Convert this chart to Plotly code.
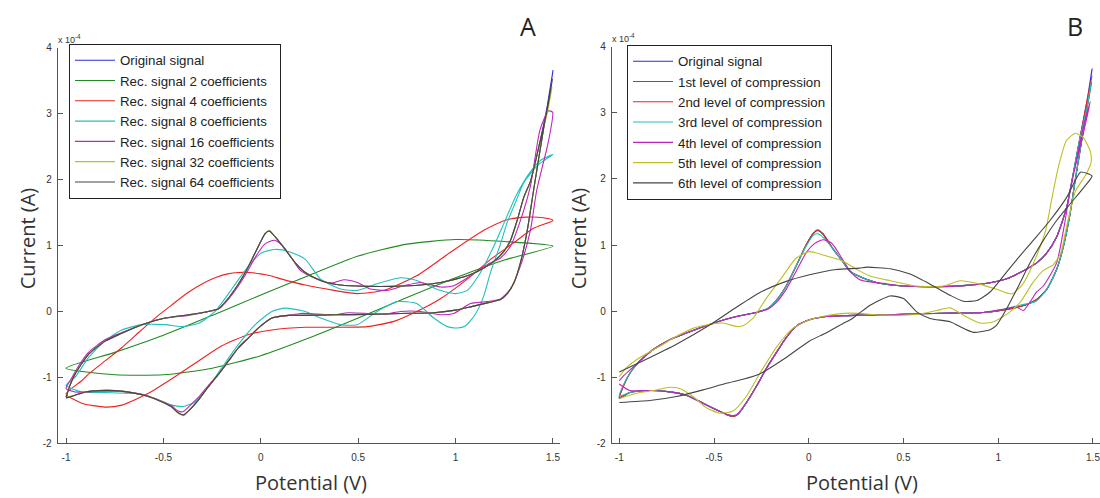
import plotly.graph_objects as go

# Currents are in units of 1e-4 A (axis shows "x 10^-4")
# ---------------- Panel A ----------------
A_orig_V = [-1, -0.98, -0.954, -0.885, -0.80, -0.714, -0.611, -0.491, -0.372, -0.269, -0.217, -0.183, -0.132, -0.08, -0.029, 0.022, 0.043, 0.074, 0.125, 0.176, 0.228, 0.307, 0.41, 0.546, 0.683, 0.82, 0.923, 1.0, 1.077, 1.145, 1.196, 1.248, 1.282, 1.316, 1.35, 1.385, 1.433, 1.47, 1.5,
            1.45, 1.40, 1.368, 1.333, 1.30, 1.265, 1.23, 1.162, 1.077, 1.0, 0.888, 0.717, 0.546, 0.375, 0.228, 0.142, 0.057, -0.012, -0.063, -0.115, -0.166, -0.217, -0.269, -0.32, -0.372, -0.397, -0.423, -0.457, -0.509, -0.577, -0.663, -0.748, -0.834, -0.90, -0.954, -1.0]
A_orig_I = [-1.30, -1.12, -0.95, -0.65, -0.45, -0.33, -0.20, -0.10, -0.05, 0.0, 0.04, 0.14, 0.34, 0.59, 0.89, 1.18, 1.22, 1.13, 0.94, 0.74, 0.59, 0.47, 0.40, 0.38, 0.38, 0.40, 0.44, 0.49, 0.56, 0.66, 0.76, 0.91, 1.08, 1.38, 1.73, 1.98, 2.57, 3.1, 3.65,
            2.74, 1.83, 1.23, 0.74, 0.44, 0.27, 0.18, 0.13, 0.07, 0.02, -0.02, -0.03, -0.045, -0.05, -0.06, -0.06, -0.10, -0.25, -0.40, -0.55, -0.75, -0.95, -1.14, -1.34, -1.51, -1.57, -1.54, -1.45, -1.37, -1.29, -1.23, -1.20, -1.20, -1.22, -1.27, -1.31]

A_c2_V = [-1, -0.75, -0.5, -0.25, 0.0, 0.25, 0.5, 0.75, 1.0, 1.25, 1.5,
          1.25, 1.0, 0.75, 0.5, 0.25, 0.0, -0.25, -0.5, -0.75, -1.0]
A_c2_I = [-0.86, -0.62, -0.36, -0.06, 0.25, 0.55, 0.84, 1.02, 1.09, 1.06, 0.99,
          0.78, 0.51, 0.21, -0.10, -0.40, -0.67, -0.86, -0.96, -0.96, -0.86]

A_c4_V = [-1, -0.92, -0.885, -0.80, -0.714, -0.62, -0.543, -0.457, -0.372, -0.30, -0.235, -0.17, -0.115, -0.06, 0.0, 0.05, 0.108, 0.228, 0.375, 0.495, 0.632, 0.80, 0.97, 1.145, 1.265, 1.367, 1.45, 1.5,
          1.40, 1.316, 1.18, 1.06, 0.92, 0.80, 0.683, 0.546, 0.375, 0.228, 0.057, -0.063, -0.2, -0.32, -0.457, -0.577, -0.714, -0.8, -0.92, -1.0]
A_c4_I = [-1.25, -1.05, -0.95, -0.75, -0.55, -0.30, -0.10, 0.10, 0.29, 0.42, 0.51, 0.57, 0.59, 0.59, 0.57, 0.54, 0.49, 0.40, 0.32, 0.27, 0.32, 0.54, 0.89, 1.23, 1.39, 1.43, 1.42, 1.38,
          1.26, 1.08, 0.79, 0.49, 0.19, 0.0, -0.15, -0.23, -0.24, -0.24, -0.28, -0.35, -0.52, -0.75, -1.02, -1.24, -1.42, -1.45, -1.39, -1.25]

A_c8_V = [-1, -0.954, -0.885, -0.80, -0.714, -0.611, -0.491, -0.406, -0.32, -0.235, -0.149, -0.063, 0.005, 0.074, 0.142, 0.228, 0.307, 0.41, 0.495, 0.597, 0.717, 0.80, 0.92, 1.0, 1.06, 1.128, 1.196, 1.25, 1.31, 1.38, 1.44, 1.5,
          1.46, 1.416, 1.35, 1.314, 1.265, 1.228, 1.18, 1.145, 1.10, 1.05, 1.008, 0.957, 0.888, 0.80, 0.70, 0.597, 0.495, 0.41, 0.307, 0.228, 0.125, 0.057, -0.029, -0.115, -0.2, -0.269, -0.337, -0.397, -0.457, -0.543, -0.628, -0.80, -0.92, -1.0]
A_c8_I = [-1.12, -1.0, -0.70, -0.45, -0.28, -0.20, -0.20, -0.23, -0.18, 0.0, 0.34, 0.69, 0.89, 0.94, 0.91, 0.79, 0.49, 0.34, 0.32, 0.42, 0.51, 0.47, 0.32, 0.27, 0.32, 0.59, 0.99, 1.35, 1.75, 2.1, 2.3, 2.38,
          2.3, 2.2, 1.95, 1.7, 1.35, 1.0, 0.6, 0.24, -0.05, -0.22, -0.25, -0.23, -0.10, 0.12, 0.15, 0.0, -0.20, -0.20, -0.10, 0.0, 0.05, 0.0, -0.20, -0.50, -0.85, -1.14, -1.37, -1.44, -1.42, -1.32, -1.25, -1.23, -1.22, -1.12]

A_c16_V = [-1, -0.97, -0.93, -0.885, -0.80, -0.714, -0.611, -0.491, -0.372, -0.269, -0.217, -0.183, -0.132, -0.08, -0.029, 0.02, 0.07, 0.11, 0.16, 0.204, 0.29, 0.358, 0.426, 0.495, 0.563, 0.649, 0.734, 0.82, 0.923, 0.991, 1.077, 1.162, 1.23, 1.282, 1.333, 1.384, 1.433, 1.476, 1.498,
           1.476, 1.416, 1.384, 1.333, 1.282, 1.23, 1.162, 1.077, 0.991, 0.923, 0.82, 0.717, 0.632, 0.546, 0.45, 0.375, 0.29, 0.204, 0.142, 0.057, -0.012, -0.063, -0.115, -0.166, -0.217, -0.269, -0.32, -0.372, -0.40, -0.43, -0.457, -0.509, -0.577, -0.663, -0.748, -0.834, -0.90, -0.954, -1.0]
A_c16_I = [-1.17, -1.0, -0.80, -0.62, -0.43, -0.32, -0.20, -0.10, -0.06, 0.0, 0.04, 0.13, 0.32, 0.55, 0.82, 1.02, 1.08, 1.0, 0.80, 0.62, 0.49, 0.43, 0.48, 0.44, 0.34, 0.32, 0.39, 0.44, 0.37, 0.39, 0.54, 0.71, 0.81, 0.99, 1.38, 1.9, 2.75, 3.04, 3.02,
           2.57, 1.83, 1.23, 0.69, 0.34, 0.19, 0.15, 0.12, -0.03, -0.05, 0.0, 0.0, -0.045, -0.03, -0.02, -0.05, -0.04, -0.03, -0.06, -0.10, -0.25, -0.40, -0.55, -0.75, -0.95, -1.12, -1.30, -1.45, -1.52, -1.50, -1.43, -1.36, -1.28, -1.23, -1.21, -1.21, -1.22, -1.22, -1.17]

A_c32_V = [-1, -0.98, -0.954, -0.885, -0.80, -0.714, -0.611, -0.491, -0.372, -0.269, -0.217, -0.183, -0.132, -0.08, -0.029, 0.022, 0.043, 0.074, 0.125, 0.176, 0.228, 0.307, 0.41, 0.546, 0.683, 0.82, 0.923, 1.0, 1.077, 1.145, 1.196, 1.248, 1.282, 1.316, 1.35, 1.385, 1.433, 1.47, 1.495,
           1.45, 1.40, 1.368, 1.333, 1.30, 1.265, 1.23, 1.162, 1.077, 1.0, 0.888, 0.717, 0.546, 0.375, 0.228, 0.142, 0.057, -0.012, -0.063, -0.115, -0.166, -0.217, -0.269, -0.32, -0.372, -0.397, -0.423, -0.457, -0.509, -0.577, -0.663, -0.748, -0.834, -0.90, -0.954, -1.0]
A_c32_I = [-1.29, -1.11, -0.95, -0.65, -0.45, -0.33, -0.20, -0.10, -0.05, 0.0, 0.04, 0.14, 0.34, 0.59, 0.89, 1.18, 1.23, 1.13, 0.94, 0.74, 0.59, 0.47, 0.40, 0.38, 0.38, 0.40, 0.44, 0.49, 0.56, 0.66, 0.76, 0.91, 1.08, 1.38, 1.73, 1.98, 2.57, 3.0, 3.40,
           2.74, 1.83, 1.23, 0.74, 0.44, 0.27, 0.18, 0.13, 0.07, 0.02, -0.02, -0.03, -0.045, -0.05, -0.06, -0.06, -0.10, -0.25, -0.40, -0.55, -0.75, -0.95, -1.14, -1.34, -1.51, -1.58, -1.54, -1.45, -1.37, -1.29, -1.23, -1.20, -1.20, -1.22, -1.27, -1.30]

A_c64_V = [-1, -0.98, -0.954, -0.885, -0.80, -0.714, -0.611, -0.491, -0.372, -0.269, -0.217, -0.183, -0.132, -0.08, -0.029, 0.022, 0.043, 0.074, 0.125, 0.176, 0.228, 0.307, 0.41, 0.546, 0.683, 0.82, 0.923, 1.0, 1.077, 1.145, 1.196, 1.248, 1.282, 1.316, 1.35, 1.385, 1.433, 1.47, 1.497,
           1.45, 1.40, 1.368, 1.333, 1.30, 1.265, 1.23, 1.162, 1.077, 1.0, 0.888, 0.717, 0.546, 0.375, 0.228, 0.142, 0.057, -0.012, -0.063, -0.115, -0.166, -0.217, -0.269, -0.32, -0.372, -0.397, -0.423, -0.457, -0.509, -0.577, -0.663, -0.748, -0.834, -0.90, -0.954, -1.0]
A_c64_I = [-1.30, -1.12, -0.95, -0.65, -0.45, -0.33, -0.20, -0.10, -0.05, 0.0, 0.04, 0.14, 0.34, 0.59, 0.89, 1.18, 1.22, 1.13, 0.94, 0.74, 0.59, 0.47, 0.40, 0.38, 0.38, 0.40, 0.44, 0.49, 0.56, 0.66, 0.76, 0.91, 1.08, 1.38, 1.73, 1.98, 2.57, 3.05, 3.52,
           2.74, 1.83, 1.23, 0.74, 0.44, 0.27, 0.18, 0.13, 0.07, 0.02, -0.02, -0.03, -0.045, -0.05, -0.06, -0.06, -0.10, -0.25, -0.40, -0.55, -0.75, -0.95, -1.14, -1.34, -1.51, -1.57, -1.54, -1.45, -1.37, -1.29, -1.23, -1.20, -1.20, -1.22, -1.27, -1.31]

# ---------------- Panel B ----------------
B_orig_V = [-1, -0.979, -0.94, -0.891, -0.821, -0.733, -0.646, -0.523, -0.382, -0.277, -0.216, -0.172, -0.119, -0.067, -0.014, 0.025, 0.047, 0.074, 0.126, 0.179, 0.219, 0.307, 0.395, 0.5, 0.658, 0.834, 0.957, 1.045, 1.133, 1.203, 1.256, 1.308, 1.361, 1.388, 1.43, 1.47, 1.495,
            1.45, 1.405, 1.379, 1.344, 1.308, 1.256, 1.2, 1.115, 1.027, 0.922, 0.746, 0.57, 0.395, 0.267, 0.179, 0.091, 0.004, -0.067, -0.119, -0.172, -0.225, -0.277, -0.33, -0.374, -0.40, -0.435, -0.488, -0.558, -0.646, -0.733, -0.839, -0.944, -1.0]
B_orig_I = [-1.32, -1.14, -0.92, -0.75, -0.58, -0.43, -0.33, -0.20, -0.08, -0.02, 0.04, 0.16, 0.38, 0.68, 1.0, 1.18, 1.22, 1.17, 0.95, 0.75, 0.60, 0.48, 0.41, 0.38, 0.37, 0.39, 0.43, 0.49, 0.61, 0.73, 0.88, 1.12, 1.57, 1.96, 2.6, 3.2, 3.66,
            2.75, 1.96, 1.47, 0.98, 0.63, 0.33, 0.17, 0.07, 0.02, -0.02, -0.03, -0.04, -0.06, -0.06, -0.07, -0.08, -0.13, -0.23, -0.40, -0.63, -0.87, -1.14, -1.39, -1.56, -1.59, -1.56, -1.49, -1.39, -1.27, -1.22, -1.20, -1.23, -1.32]

B_l1_V = [-1, -0.979, -0.94, -0.891, -0.821, -0.733, -0.646, -0.523, -0.382, -0.277, -0.216, -0.172, -0.119, -0.067, -0.014, 0.025, 0.047, 0.074, 0.126, 0.179, 0.219, 0.307, 0.395, 0.5, 0.658, 0.834, 0.957, 1.045, 1.133, 1.203, 1.256, 1.308, 1.361, 1.388, 1.43, 1.47, 1.492,
          1.45, 1.405, 1.379, 1.344, 1.308, 1.256, 1.2, 1.115, 1.027, 0.922, 0.746, 0.57, 0.395, 0.267, 0.179, 0.091, 0.004, -0.067, -0.119, -0.172, -0.225, -0.277, -0.33, -0.374, -0.40, -0.435, -0.488, -0.558, -0.646, -0.733, -0.839, -0.944, -1.0]
B_l1_I = [-1.30, -1.13, -0.92, -0.75, -0.58, -0.43, -0.33, -0.20, -0.08, -0.02, 0.04, 0.16, 0.38, 0.68, 1.0, 1.18, 1.22, 1.17, 0.95, 0.75, 0.60, 0.48, 0.41, 0.38, 0.37, 0.39, 0.43, 0.49, 0.61, 0.73, 0.88, 1.12, 1.57, 1.96, 2.6, 3.15, 3.45,
          2.75, 1.96, 1.47, 0.98, 0.63, 0.33, 0.17, 0.07, 0.02, -0.02, -0.03, -0.04, -0.06, -0.06, -0.07, -0.08, -0.13, -0.23, -0.40, -0.63, -0.87, -1.14, -1.39, -1.56, -1.59, -1.56, -1.49, -1.39, -1.27, -1.22, -1.20, -1.23, -1.30]

B_l2_V = [-1, -0.979, -0.94, -0.891, -0.821, -0.733, -0.646, -0.523, -0.382, -0.277, -0.216, -0.172, -0.119, -0.067, -0.014, 0.025, 0.047, 0.074, 0.126, 0.179, 0.219, 0.307, 0.395, 0.5, 0.658, 0.834, 0.957, 1.045, 1.133, 1.203, 1.256, 1.308, 1.361, 1.388, 1.43, 1.47, 1.495,
          1.45, 1.405, 1.379, 1.344, 1.308, 1.256, 1.2, 1.115, 1.027, 0.922, 0.746, 0.57, 0.395, 0.267, 0.179, 0.091, 0.004, -0.067, -0.119, -0.172, -0.225, -0.277, -0.33, -0.374, -0.40, -0.435, -0.488, -0.558, -0.646, -0.733, -0.839, -0.944, -1.0]
B_l2_I = [-1.31, -1.14, -0.92, -0.75, -0.58, -0.43, -0.33, -0.20, -0.08, -0.02, 0.04, 0.16, 0.38, 0.68, 1.0, 1.18, 1.23, 1.17, 0.95, 0.75, 0.60, 0.48, 0.41, 0.38, 0.37, 0.39, 0.43, 0.49, 0.61, 0.73, 0.88, 1.12, 1.57, 1.96, 2.6, 3.2, 3.56,
          2.75, 1.96, 1.47, 0.98, 0.63, 0.33, 0.17, 0.07, 0.02, -0.02, -0.03, -0.04, -0.06, -0.06, -0.07, -0.08, -0.13, -0.23, -0.40, -0.63, -0.87, -1.14, -1.39, -1.56, -1.59, -1.56, -1.49, -1.39, -1.27, -1.22, -1.20, -1.23, -1.31]

B_l3_V = [-1, -0.979, -0.94, -0.891, -0.821, -0.733, -0.646, -0.523, -0.382, -0.277, -0.216, -0.172, -0.119, -0.067, -0.014, 0.025, 0.047, 0.074, 0.126, 0.179, 0.219, 0.307, 0.395, 0.5, 0.658, 0.834, 0.957, 1.045, 1.133, 1.203, 1.256, 1.308, 1.361, 1.388, 1.43, 1.47, 1.49,
          1.45, 1.405, 1.379, 1.344, 1.308, 1.256, 1.2, 1.115, 1.027, 0.922, 0.746, 0.57, 0.395, 0.267, 0.179, 0.091, 0.004, -0.067, -0.119, -0.172, -0.225, -0.277, -0.33, -0.374, -0.40, -0.435, -0.488, -0.558, -0.646, -0.733, -0.839, -0.944, -1.0]
B_l3_I = [-1.28, -1.12, -0.92, -0.75, -0.58, -0.43, -0.33, -0.20, -0.08, -0.02, 0.04, 0.16, 0.38, 0.68, 0.98, 1.15, 1.17, 1.12, 0.95, 0.75, 0.60, 0.48, 0.41, 0.38, 0.37, 0.39, 0.43, 0.49, 0.61, 0.73, 0.88, 1.12, 1.57, 1.96, 2.6, 3.1, 3.45,
          2.75, 1.96, 1.47, 0.98, 0.63, 0.33, 0.15, 0.09, 0.03, -0.02, -0.03, -0.04, -0.06, -0.06, -0.07, -0.08, -0.13, -0.23, -0.40, -0.63, -0.87, -1.14, -1.39, -1.56, -1.58, -1.56, -1.49, -1.39, -1.27, -1.22, -1.20, -1.23, -1.28]

B_l4_V = [-1, -0.979, -0.94, -0.891, -0.821, -0.733, -0.646, -0.523, -0.382, -0.277, -0.216, -0.172, -0.119, -0.067, -0.014, 0.03, 0.074, 0.12, 0.179, 0.219, 0.267, 0.307, 0.395, 0.5, 0.658, 0.834, 0.957, 1.045, 1.133, 1.203, 1.256, 1.308, 1.361, 1.40, 1.45, 1.486,
          1.45, 1.40, 1.379, 1.344, 1.308, 1.238, 1.203, 1.168, 1.133, 1.098, 1.027, 0.922, 0.746, 0.57, 0.395, 0.267, 0.179, 0.091, 0.004, -0.067, -0.119, -0.172, -0.225, -0.277, -0.33, -0.374, -0.40, -0.435, -0.488, -0.558, -0.646, -0.733, -0.839, -0.944, -1.0]
B_l4_I = [-1.05, -0.98, -0.88, -0.75, -0.58, -0.43, -0.33, -0.20, -0.08, -0.02, 0.03, 0.13, 0.33, 0.60, 0.88, 1.02, 1.08, 1.03, 0.78, 0.60, 0.48, 0.45, 0.42, 0.38, 0.37, 0.39, 0.43, 0.49, 0.61, 0.73, 0.88, 1.12, 1.57, 2.1, 2.8, 3.17,
          2.7, 2.1, 1.81, 1.22, 0.73, 0.38, 0.29, 0.14, 0.01, 0.06, 0.03, -0.02, -0.03, -0.04, -0.06, -0.06, -0.07, -0.08, -0.13, -0.23, -0.40, -0.63, -0.87, -1.14, -1.38, -1.55, -1.58, -1.56, -1.49, -1.39, -1.27, -1.22, -1.20, -1.20, -1.10]

B_l5_V = [-1, -0.961, -0.891, -0.786, -0.698, -0.611, -0.523, -0.453, -0.382, -0.347, -0.295, -0.225, -0.137, -0.067, 0.004, 0.074, 0.179, 0.26, 0.324, 0.43, 0.57, 0.711, 0.799, 0.887, 0.992, 1.071, 1.127, 1.197, 1.25, 1.284, 1.32, 1.36, 1.407, 1.45, 1.486,
          1.49, 1.46, 1.407, 1.36, 1.33, 1.29, 1.24, 1.18, 1.12, 1.062, 0.975, 0.904, 0.816, 0.746, 0.676, 0.57, 0.395, 0.219, 0.091, 0.004, -0.084, -0.172, -0.26, -0.33, -0.40, -0.47, -0.54, -0.611, -0.681, -0.733, -0.821, -0.909, -1.0]
B_l5_I = [-0.99, -0.85, -0.70, -0.53, -0.38, -0.26, -0.20, -0.18, -0.23, -0.22, -0.11, 0.19, 0.53, 0.80, 0.90, 0.85, 0.76, 0.62, 0.53, 0.46, 0.38, 0.38, 0.46, 0.42, 0.33, 0.26, 0.40, 0.80, 1.22, 1.72, 2.21, 2.58, 2.69, 2.62, 2.41,
          2.25, 2.05, 1.81, 1.27, 0.88, 0.70, 0.62, 0.42, 0.15, -0.01, -0.16, -0.18, -0.06, 0.05, 0.01, -0.05, -0.06, -0.03, -0.07, -0.13, -0.26, -0.55, -0.95, -1.29, -1.51, -1.54, -1.46, -1.29, -1.17, -1.15, -1.20, -1.24, -1.32]

B_l6_V = [-1, -0.874, -0.698, -0.523, -0.382, -0.26, -0.119, 0.004, 0.144, 0.267, 0.307, 0.43, 0.535, 0.658, 0.746, 0.816, 0.887, 0.957, 1.027, 1.098, 1.185, 1.273, 1.361, 1.434, 1.47, 1.495,
          1.449, 1.379, 1.308, 1.238, 1.168, 1.098, 1.045, 0.992, 0.957, 0.869, 0.816, 0.746, 0.64, 0.57, 0.5, 0.43, 0.324, 0.267, 0.219, 0.179, 0.091, 0.004, -0.119, -0.26, -0.347, -0.435, -0.558, -0.698, -0.839, -1.0]
B_l6_I = [-0.92, -0.75, -0.50, -0.21, 0.06, 0.28, 0.45, 0.55, 0.63, 0.65, 0.665, 0.64, 0.56, 0.38, 0.24, 0.15, 0.16, 0.29, 0.53, 0.78, 1.07, 1.37, 1.72, 2.10, 2.08, 2.04,
          1.86, 1.62, 1.37, 1.07, 0.73, 0.33, 0.04, -0.21, -0.28, -0.32, -0.26, -0.16, -0.11, -0.01, 0.19, 0.23, 0.09, -0.03, -0.13, -0.19, -0.33, -0.45, -0.70, -0.95, -1.03, -1.09, -1.19, -1.29, -1.35, -1.38]

NAMES_A = ["Original signal", "Rec. signal 2 coefficients", "Rec. signal 4 coefficients",
           "Rec. signal 8 coefficients", "Rec. signal 16 coefficients",
           "Rec. signal 32 coefficients", "Rec. signal 64 coefficients"]
NAMES_B = ["Original signal", "1st level of compression", "2nd level of compression",
           "3rd level of compression", "4th level of compression",
           "5th level of compression", "6th level of compression"]
COLORS = ["#2a2ae8", "#1f8a1f", "#ee2222", "#22bfbf", "#bf22bf", "#bfbf22", "#454545"]

X_TICKS = [-1, -0.5, 0, 0.5, 1, 1.5]
X_TICKTEXT = ["-1", "-0.5", "0", "0.5", "1", "1.5"]
Y_TICKS = [-2, -1, 0, 1, 2, 3, 4]
Y_TICKTEXT = ["-2", "-1", "0", "1", "2", "3", "4"]

series_A = [(A_orig_V, A_orig_I), (A_c2_V, A_c2_I), (A_c4_V, A_c4_I), (A_c8_V, A_c8_I),
            (A_c16_V, A_c16_I), (A_c32_V, A_c32_I), (A_c64_V, A_c64_I)]
series_B = [(B_orig_V, B_orig_I), (B_l1_V, B_l1_I), (B_l2_V, B_l2_I), (B_l3_V, B_l3_I),
            (B_l4_V, B_l4_I), (B_l5_V, B_l5_I), (B_l6_V, B_l6_I)]

fig = go.Figure()
for (V, I), name, col in zip(series_A, NAMES_A, COLORS):
    fig.add_trace(go.Scatter(x=V, y=I, mode="lines", name=name, xaxis="x", yaxis="y",
                             legend="legend",
                             line=dict(color=col, width=1.1, shape="spline", smoothing=0.6)))
for (V, I), name, col in zip(series_B, NAMES_B, COLORS):
    fig.add_trace(go.Scatter(x=V, y=I, mode="lines", name=name, xaxis="x2", yaxis="y2",
                             legend="legend2",
                             line=dict(color=col, width=1.1, shape="spline", smoothing=0.6)))

W, H = 1100, 498
axis_common = dict(showgrid=False, zeroline=False, showline=True, linecolor="#555",
                   linewidth=1, ticks="inside", ticklen=5, tickcolor="#555",
                   tickfont=dict(family="Liberation Sans, Arial", size=10, color="#333"),
                   mirror=False, ticklabeloverflow="allow")
xax = dict(axis_common, ticklabelstandoff=5)
yax = dict(axis_common, ticklabelstandoff=3)

fig.update_layout(
    width=W, height=H, margin=dict(l=0, r=0, t=0, b=0),
    paper_bgcolor="white", plot_bgcolor="white",
    xaxis=dict(domain=[57.7 / W, 560 / W], range=[-1.043, 1.536], anchor="y",
               tickvals=X_TICKS, ticktext=X_TICKTEXT, **xax),
    yaxis=dict(domain=[1 - 448.2 / H, 1 - 42.6 / H], range=[-2, 4], anchor="x",
               tickvals=Y_TICKS, ticktext=Y_TICKTEXT, **yax),
    xaxis2=dict(domain=[611.7 / W, 1.0], range=[-1.04, 1.537], anchor="y2",
                tickvals=X_TICKS, ticktext=X_TICKTEXT, **xax),
    yaxis2=dict(domain=[1 - 448.3 / H, 1 - 41.5 / H], range=[-2, 4], anchor="x2",
                tickvals=Y_TICKS, ticktext=Y_TICKTEXT, **yax),
    legend=dict(x=69 / W, y=1 - 39 / H, xanchor="left", yanchor="top",
                bgcolor="white", bordercolor="#222", borderwidth=1,
                font=dict(family="Liberation Sans, Arial", size=13.3, color="#222"),
                itemwidth=40, tracegroupgap=0),
    legend2=dict(x=627 / W, y=1 - 40 / H, xanchor="left", yanchor="top",
                 bgcolor="white", bordercolor="#222", borderwidth=1,
                 font=dict(family="Liberation Sans, Arial", size=13.3, color="#222"),
                 itemwidth=40, tracegroupgap=0),
)

title_font = dict(family="Open Sans, Liberation Sans", size=20, color="#333")
ann = [
    dict(text="A", x=528 / W, y=1 - 20 / H, font=dict(family="Open Sans", size=25, color="#222")),
    dict(text="B", x=1075 / W, y=1 - 20 / H, font=dict(family="Open Sans", size=25, color="#222")),
    dict(text="Potential (V)", x=311 / W, y=1 - 488 / H, font=title_font),
    dict(text="Potential (V)", x=862 / W, y=1 - 488 / H, font=title_font),
    dict(text="Current (A)", x=27 / W, y=1 - 238 / H, textangle=-90, font=title_font),
    dict(text="Current (A)", x=578 / W, y=1 - 238 / H, textangle=-90, font=title_font),
    dict(text="x 10<sup>-4</sup>", x=56 / W, y=1 - 34 / H, xanchor="left",
         font=dict(family="Liberation Sans, Arial", size=9, color="#333")),
    dict(text="x 10<sup>-4</sup>", x=610 / W, y=1 - 33 / H, xanchor="left",
         font=dict(family="Liberation Sans, Arial", size=9, color="#333")),
]
for a in ann:
    a.setdefault("xanchor", "center")
    fig.add_annotation(xref="paper", yref="paper", showarrow=False, yanchor="middle", **a)

fig.write_html("out.html")
